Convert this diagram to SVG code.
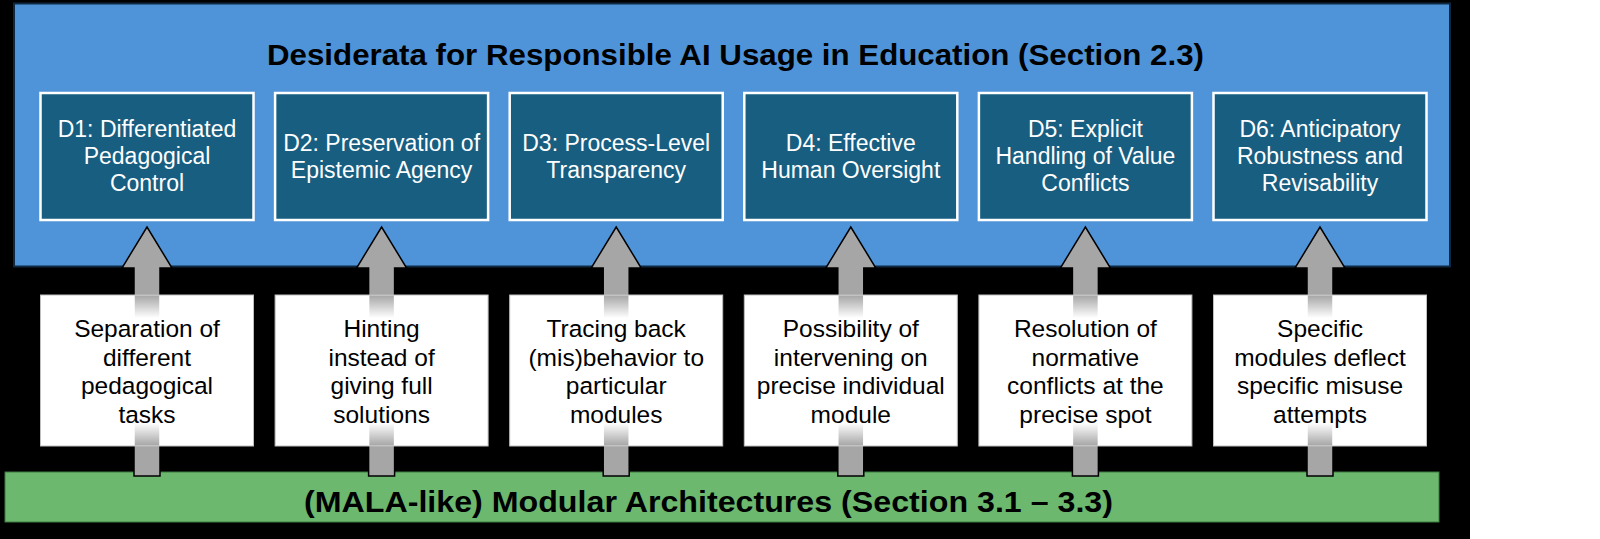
<svg xmlns="http://www.w3.org/2000/svg" width="1600" height="539" viewBox="0 0 1600 539">
<defs>
<style>
.dbox{fill:#175E81;stroke:#FFFFFF;stroke-width:2.5}
.wbox{fill:#FFFFFF;stroke:#BFBFBF;stroke-width:1}
.dt{font-family:"Liberation Sans",Arial,sans-serif;font-size:23px;fill:#FFFFFF;text-anchor:middle}
.wt{font-family:"Liberation Sans",Arial,sans-serif;font-size:24.5px;fill:#000000;text-anchor:middle}
.title{font-family:"Liberation Sans",Arial,sans-serif;font-weight:bold;font-size:29px;fill:#000000}
.arrow{fill:#A6A6A6;stroke:#000000;stroke-width:1.5;stroke-linejoin:miter}
</style>
<linearGradient id="fade" x1="0" y1="0" x2="0" y2="1">
<stop offset="0" stop-color="#A6A6A6"/>
<stop offset="0.15" stop-color="#FFFFFF"/>
<stop offset="0.85" stop-color="#FFFFFF"/>
<stop offset="1" stop-color="#A6A6A6"/>
</linearGradient>
</defs>
<rect x="0" y="0" width="1470" height="539" fill="#000000"/>
<g id="desiderata">
<rect x="14" y="3.5" width="1436" height="263" fill="#4F94D9" stroke="#0E2841" stroke-width="2"/>
<text class="title" x="267" y="64.5" textLength="937" lengthAdjust="spacingAndGlyphs">Desiderata for Responsible AI Usage in Education (Section 2.3)</text>
</g>
<g id="modular">
<rect x="5" y="472" width="1434" height="50" fill="#6CB86F" stroke="#3E7A41" stroke-width="1"/>
<text class="title" x="304" y="511.5" font-size="28" textLength="809" lengthAdjust="spacingAndGlyphs">(MALA-like) Modular Architectures (Section 3.1 – 3.3)</text>
</g>
<g id="D1"><rect class="dbox" x="40.5" y="93" width="213" height="127"/>
<text class="dt" x="147" y="137">D1: Differentiated</text><text class="dt" x="147" y="164">Pedagogical</text><text class="dt" x="147" y="191">Control</text></g>
<g id="D2"><rect class="dbox" x="275.1" y="93" width="213" height="127"/>
<text class="dt" x="381.6" y="150.5">D2: Preservation of</text><text class="dt" x="381.6" y="177.5">Epistemic Agency</text></g>
<g id="D3"><rect class="dbox" x="509.7" y="93" width="213" height="127"/>
<text class="dt" x="616.2" y="150.5">D3: Process-Level</text><text class="dt" x="616.2" y="177.5">Transparency</text></g>
<g id="D4"><rect class="dbox" x="744.3" y="93" width="213" height="127"/>
<text class="dt" x="850.8" y="150.5">D4: Effective</text><text class="dt" x="850.8" y="177.5">Human Oversight</text></g>
<g id="D5"><rect class="dbox" x="978.9" y="93" width="213" height="127"/>
<text class="dt" x="1085.4" y="137">D5: Explicit</text><text class="dt" x="1085.4" y="164">Handling of Value</text><text class="dt" x="1085.4" y="191">Conflicts</text></g>
<g id="D6"><rect class="dbox" x="1213.5" y="93" width="213" height="127"/>
<text class="dt" x="1320" y="137">D6: Anticipatory</text><text class="dt" x="1320" y="164">Robustness and</text><text class="dt" x="1320" y="191">Revisability</text></g>
<g id="connectors">
<path class="arrow" d="M134 476V268H122L147 227L172 268H160V476Z"/>
<path class="arrow" d="M368.6 476V268H356.6L381.6 227L406.6 268H394.6V476Z"/>
<path class="arrow" d="M603.2 476V268H591.2L616.2 227L641.2 268H629.2V476Z"/>
<path class="arrow" d="M837.8 476V268H825.8L850.8 227L875.8 268H863.8V476Z"/>
<path class="arrow" d="M1072.4 476V268H1060.4L1085.4 227L1110.4 268H1098.4V476Z"/>
<path class="arrow" d="M1307 476V268H1295L1320 227L1345 268H1333V476Z"/>
</g>
<g id="M1"><rect class="wbox" x="40.5" y="295" width="213" height="151"/><rect x="134.75" y="295.5" width="24.5" height="150" fill="url(#fade)"/>
<text class="wt" x="147" y="337">Separation of</text><text class="wt" x="147" y="365.5">different</text><text class="wt" x="147" y="394">pedagogical</text><text class="wt" x="147" y="422.5">tasks</text></g>
<g id="M2"><rect class="wbox" x="275.1" y="295" width="213" height="151"/><rect x="369.35" y="295.5" width="24.5" height="150" fill="url(#fade)"/>
<text class="wt" x="381.6" y="337">Hinting</text><text class="wt" x="381.6" y="365.5">instead of</text><text class="wt" x="381.6" y="394">giving full</text><text class="wt" x="381.6" y="422.5">solutions</text></g>
<g id="M3"><rect class="wbox" x="509.7" y="295" width="213" height="151"/><rect x="603.95" y="295.5" width="24.5" height="150" fill="url(#fade)"/>
<text class="wt" x="616.2" y="337">Tracing back</text><text class="wt" x="616.2" y="365.5">(mis)behavior to</text><text class="wt" x="616.2" y="394">particular</text><text class="wt" x="616.2" y="422.5">modules</text></g>
<g id="M4"><rect class="wbox" x="744.3" y="295" width="213" height="151"/><rect x="838.55" y="295.5" width="24.5" height="150" fill="url(#fade)"/>
<text class="wt" x="850.8" y="337">Possibility of</text><text class="wt" x="850.8" y="365.5">intervening on</text><text class="wt" x="850.8" y="394">precise individual</text><text class="wt" x="850.8" y="422.5">module</text></g>
<g id="M5"><rect class="wbox" x="978.9" y="295" width="213" height="151"/><rect x="1073.15" y="295.5" width="24.5" height="150" fill="url(#fade)"/>
<text class="wt" x="1085.4" y="337">Resolution of</text><text class="wt" x="1085.4" y="365.5">normative</text><text class="wt" x="1085.4" y="394">conflicts at the</text><text class="wt" x="1085.4" y="422.5">precise spot</text></g>
<g id="M6"><rect class="wbox" x="1213.5" y="295" width="213" height="151"/><rect x="1307.75" y="295.5" width="24.5" height="150" fill="url(#fade)"/>
<text class="wt" x="1320" y="337">Specific</text><text class="wt" x="1320" y="365.5">modules deflect</text><text class="wt" x="1320" y="394">specific misuse</text><text class="wt" x="1320" y="422.5">attempts</text></g>
</svg>
